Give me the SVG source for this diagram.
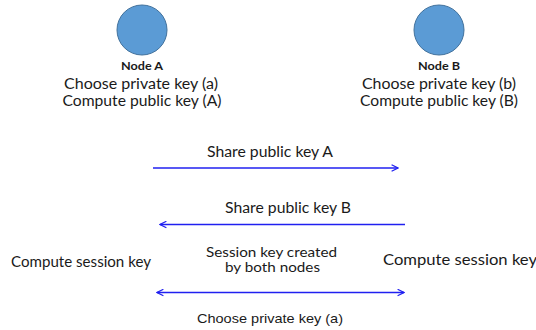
<svg xmlns="http://www.w3.org/2000/svg" width="536" height="330" viewBox="0 0 536 330">
  <defs>
    <style>
      .node { fill: #5b9bd5; stroke: #41719c; stroke-width: 1; }
      .t { font-family: Lato, "Open Sans", "Liberation Sans", sans-serif; font-size: 14.5px; fill: #1a1a1a; text-anchor: middle; }
      .s { font-size: 13.5px; }
      .b { font-family: Lato, "Open Sans", "Liberation Sans", sans-serif; font-size: 11px; font-weight: bold; fill: #1a1a1a; text-anchor: middle; }
      .a { font-family: "Liberation Sans", Arial, sans-serif; font-size: 13.5px; fill: #1a1a1a; text-anchor: middle; }
      .msg { stroke: #2020f0; stroke-width: 1.4; fill: none; }
    </style>
    <marker id="head" viewBox="0 0 10 10" refX="9" refY="5" markerWidth="8" markerHeight="8" markerUnits="userSpaceOnUse" orient="auto-start-reverse">
      <path d="M1,1 L9,5 L1,9" fill="none" stroke="#2020f0" stroke-width="1.6"/>
    </marker>
  </defs>
  <rect width="536" height="330" fill="#ffffff"/>

  <g id="node-a">
    <circle class="node" cx="142" cy="30" r="25"/>
    <text class="b" x="142" y="70" textLength="42" lengthAdjust="spacingAndGlyphs">Node A</text>
    <text class="t" x="141" y="89" textLength="154" lengthAdjust="spacingAndGlyphs">Choose private key (a)</text>
    <text class="t" x="142" y="106" textLength="159" lengthAdjust="spacingAndGlyphs">Compute public key (A)</text>
  </g>

  <g id="node-b">
    <circle class="node" cx="439" cy="30" r="25"/>
    <text class="b" x="439" y="70" textLength="42" lengthAdjust="spacingAndGlyphs">Node B</text>
    <text class="t" x="439" y="89" textLength="154" lengthAdjust="spacingAndGlyphs">Choose private key (b)</text>
    <text class="t" x="439" y="106" textLength="158" lengthAdjust="spacingAndGlyphs">Compute public key (B)</text>
  </g>

  <g id="connectors">
    <line class="msg" x1="153" y1="168" x2="398" y2="168" marker-end="url(#head)"/>
    <line class="msg" x1="405" y1="224.5" x2="160" y2="224.5" marker-end="url(#head)"/>
    <line class="msg" x1="157" y1="292.5" x2="404" y2="292.5" marker-start="url(#head)" marker-end="url(#head)"/>
  </g>

  <g id="labels">
    <text class="t" x="270" y="157" textLength="126" lengthAdjust="spacingAndGlyphs">Share public key A</text>
    <text class="t" x="288" y="213" textLength="126" lengthAdjust="spacingAndGlyphs">Share public key B</text>
    <text class="t" x="81" y="267" textLength="140" lengthAdjust="spacingAndGlyphs">Compute session key</text>
    <text class="t s" x="271.5" y="257" textLength="131" lengthAdjust="spacingAndGlyphs">Session key created</text>
    <text class="t s" x="272.5" y="272" textLength="95" lengthAdjust="spacingAndGlyphs">by both nodes</text>
    <text class="t" x="460" y="265" textLength="154" lengthAdjust="spacingAndGlyphs">Compute session key</text>
    <text class="a" x="270" y="323" textLength="146" lengthAdjust="spacingAndGlyphs">Choose private key (a)</text>
  </g>
</svg>
